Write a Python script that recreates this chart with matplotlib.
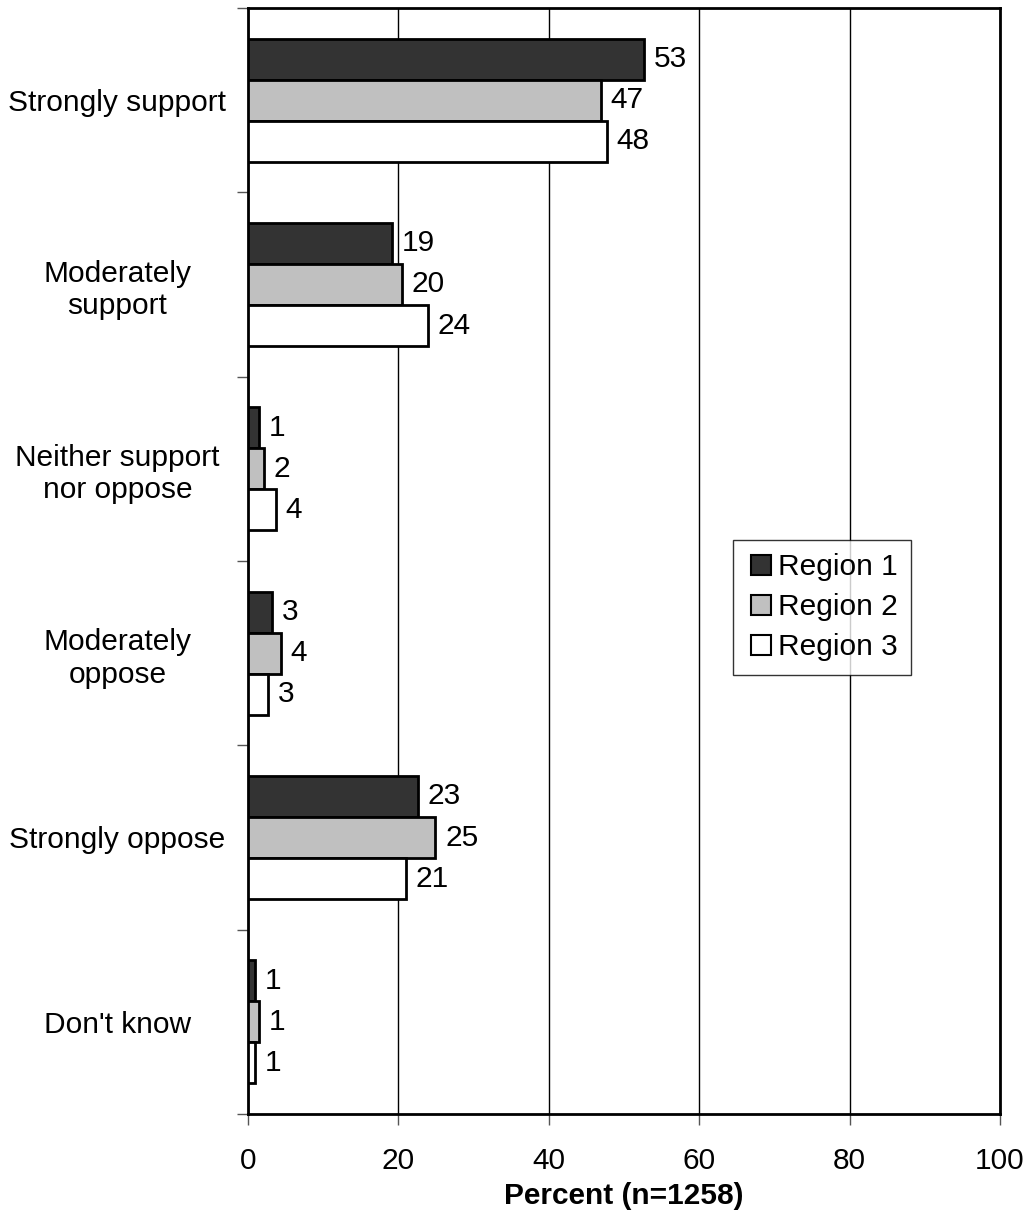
import matplotlib
matplotlib.use("Agg")
import matplotlib.pyplot as plt
import numpy as np
from matplotlib.lines import Line2D

plt.rcParams['font.family'] = ['Liberation Sans', 'DejaVu Sans']

categories = ["Strongly support", "Moderately\nsupport", "Neither support\nnor oppose",
              "Moderately\noppose", "Strongly oppose", "Don't know"]
series_names = ["Region 1", "Region 2", "Region 3"]
region1 = [52.6, 19.1, 1.5, 3.2, 22.6, 0.9]
region2 = [46.9, 20.5, 2.1, 4.4, 24.9, 1.5]
region3 = [47.7, 23.9, 3.7, 2.7, 21.0, 0.9]
labels1 = [53, 19, 1, 3, 23, 1]
labels2 = [47, 20, 2, 4, 25, 1]
labels3 = [48, 24, 4, 3, 21, 1]
colors = ["#333333", "#c0c0c0", "#ffffff"]
xticks = [0, 20, 40, 60, 80, 100]

FS = 21.5

fig = plt.figure(figsize=(10.31, 12.26), dpi=100)
ax = fig.add_axes([248/1031, 1-1114/1226, (1000-248)/1031, (1114-8)/1226])

n = len(categories)
centers = np.arange(n)
h = 0.223
series = [region1, region2, region3]
labs = [labels1, labels2, labels3]
for i, (vals, lab, c) in enumerate(zip(series, labs, colors)):
    y = centers + (i - 1) * h
    ax.barh(y, vals, height=h, color=c, edgecolor='black', linewidth=2, zorder=3)
    for yy, v, l in zip(y, vals, lab):
        ax.text(v + 1.3, yy, str(l), va='center', ha='left', fontsize=FS, zorder=4)

ax.set_xlim(0, 100)
ax.set_ylim(n - 0.5, -0.5)
ax.set_xticks(xticks)
ax.set_xticklabels([str(t) for t in xticks], fontsize=FS)
ax.set_yticks(centers)
ax.set_yticklabels(categories, fontsize=FS, ha='center', multialignment='center',
                   linespacing=1.2)
ax.tick_params(axis='y', which='major', length=0, pad=94)
ax.set_yticks(np.arange(n + 1) - 0.5, minor=True)
ax.tick_params(axis='y', which='minor', length=8, width=1, color='#555555', direction='out')
ax.tick_params(axis='x', which='major', length=8, width=1, color='#555555', direction='out', pad=16)
ax.grid(axis='x', color='black', linewidth=1, zorder=0)
for s in ax.spines.values():
    s.set_linewidth(2)
    s.set_color('black')

ax.set_xlabel("Percent (n=1258)", fontsize=FS, fontweight='bold', labelpad=5)

handles = [Line2D([], [], marker='s', linestyle='none', markersize=15,
                  markerfacecolor=c, markeredgecolor='black', markeredgewidth=1.5)
           for c in colors]
leg = ax.legend(handles, series_names, loc='upper left',
                bbox_to_anchor=((733-248)/752, 1-(540-8)/1106), fontsize=FS,
                frameon=True, fancybox=False, edgecolor='black', handletextpad=0.05,
                handlelength=1.0, borderpad=0.45, labelspacing=0.4, borderaxespad=0)
leg.get_frame().set_linewidth(1)
leg.set_zorder(5)

fig.savefig("out.png", dpi=100)
